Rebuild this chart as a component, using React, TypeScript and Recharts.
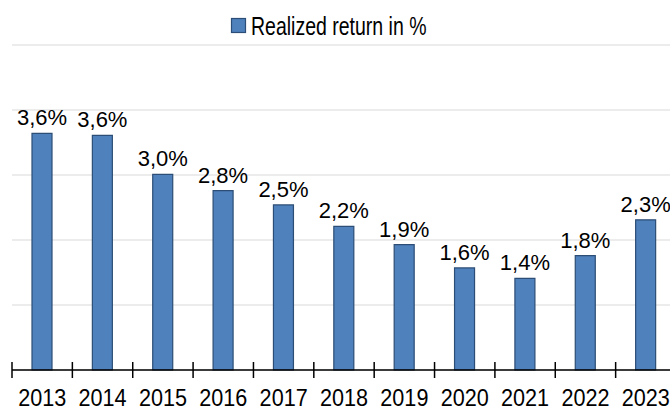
import { BarChart, Bar, XAxis, YAxis, CartesianGrid, LabelList } from 'recharts'

const YEARS = ['2013', '2014', '2015', '2016', '2017', '2018', '2019', '2020', '2021', '2022', '2023']
const RETURNS = [3.64, 3.61, 3.01, 2.76, 2.54, 2.21, 1.93, 1.57, 1.41, 1.76, 2.31]
const Y_TICKS = [0, 1, 2, 3, 4, 5]
const SERIES_NAME = 'Realized return in %'

const FONT = '"Liberation Sans", Arial, sans-serif'
const CHART_W = 680
const LEFT = 12
const RIGHT = 4
const BAND = (CHART_W - LEFT - RIGHT) / YEARS.length

const data = YEARS.map((year, i) => ({ year, value: RETURNS[i] }))

function formatPct(v: number) {
  return `${v.toFixed(1).replace('.', ',')}%`
}

function YearTick(props: any) {
  const { x, y, payload } = props
  const bx = x - BAND / 2
  return (
    <g>
      <line x1={bx} x2={bx} y1={y - 8} y2={y + 8} stroke="#000" strokeWidth={1.5} />
      <text
        x={0}
        y={0}
        transform={`translate(${x},${y + 36}) scale(0.9,1)`}
        textAnchor="middle"
        fontSize={24}
        fill="#000"
        fontFamily={FONT}
      >
        {payload.value}
      </text>
    </g>
  )
}

// legend drawn on top so it doesn't take space from the plot
function LegendOverlay() {
  return (
    <svg width={670} height={45} style={{ position: 'absolute', left: 0, top: 0 }}>
      <rect x={231.5} y={18.5} width={14} height={14} fill="#4f81bd" stroke="#2c4d75" strokeWidth={1.2} />
      <text
        x={0}
        y={0}
        transform="translate(251,35) scale(0.78,1)"
        fontSize={25}
        fill="#000"
        fontFamily={FONT}
      >
        {SERIES_NAME}
      </text>
    </svg>
  )
}

export default function App() {
  return (
    <div style={{ position: 'absolute', left: 0, top: 0, width: 670, height: 411, overflow: 'hidden', background: '#fff' }}>
      <BarChart
        width={CHART_W}
        height={411}
        data={data}
        margin={{ top: 45, right: RIGHT, left: LEFT, bottom: 0 }}
      >
        <CartesianGrid vertical={false} stroke="#d9d9d9" />
        <XAxis
          dataKey="year"
          height={41}
          tickSize={0}
          tickMargin={0}
          tickLine={false}
          axisLine={{ stroke: '#000', strokeWidth: 1.5 }}
          tick={<YearTick />}
          interval={0}
        />
        <YAxis hide domain={[0, 5]} ticks={Y_TICKS} />
        <Bar dataKey="value" barSize={20} fill="#4f81bd" stroke="#2c4d75" strokeWidth={1.2} isAnimationActive={false}>
          <LabelList
            dataKey="value"
            position="top"
            offset={8}
            formatter={(v: any) => formatPct(Number(v))}
            fill="#000"
            fontSize={22}
            fontFamily={FONT}
          />
        </Bar>
      </BarChart>
      <LegendOverlay />
    </div>
  )
}
